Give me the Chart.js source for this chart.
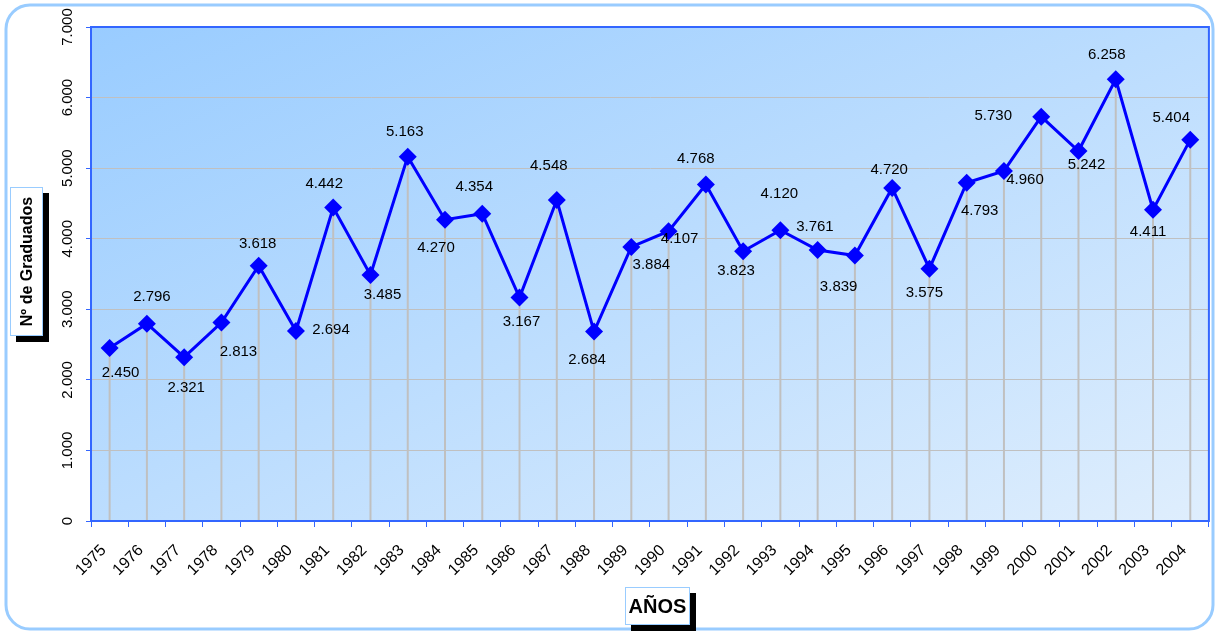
<!DOCTYPE html>
<html>
<head>
<meta charset="utf-8">
<script src="https://cdn.jsdelivr.net/npm/chart.js@4/dist/chart.umd.min.js"></script>
<style>
  html, body { margin: 0; padding: 0; background: #fff; }
  #wrap { width: 1218px; height: 631px; }
</style>
</head>
<body>
<div id="wrap"><canvas id="chart" width="1218" height="631"></canvas></div>
<script>
// datos
const years = ['1975', '1976', '1977', '1978', '1979', '1980', '1981', '1982', '1983', '1984',
  '1985', '1986', '1987', '1988', '1989', '1990', '1991', '1992', '1993', '1994',
  '1995', '1996', '1997', '1998', '1999', '2000', '2001', '2002', '2003', '2004'];
const graduados = [2450, 2796, 2321, 2813, 3618, 2694, 4442, 3485, 5163, 4270,
  4354, 3167, 4548, 2684, 3884, 4107, 4768, 3823, 4120, 3839,
  3761, 4720, 3575, 4793, 4960, 5730, 5242, 6258, 4411, 5404];
const yTicks = [0, 1000, 2000, 3000, 4000, 5000, 6000, 7000];

// desplazamiento de cada etiqueta respecto a su punto (px)
const labelDx = [11, 5, 2, 17, -1, 35, -9, 12, -3, -9, -8, 2, -8, -7, 20, 11, -10, -7, -1, 21,
  -40, -3, -5, 13, 21, -48, 8, -9, -5, -19];
const labelDy = [25, -27, 31, 29, -22, -1, -24, 20, -25, 28, -27, 24, -34, 28, 18, 8, -26, 20, -36, 37,
  -29, -18, 24, 28, 9, -1, 14, -25, 22, -22];

const FONT = 'Arial, "Liberation Sans", sans-serif';

function fmt(v) {
  if (v < 1000) return String(v);
  return Math.floor(v / 1000) + '.' + String(v % 1000).padStart(3, '0');
}

function roundRect(ctx, x, y, w, h, r) {
  ctx.beginPath();
  ctx.moveTo(x + r, y);
  ctx.lineTo(x + w - r, y);
  ctx.arcTo(x + w, y, x + w, y + r, r);
  ctx.lineTo(x + w, y + h - r);
  ctx.arcTo(x + w, y + h, x + w - r, y + h, r);
  ctx.lineTo(x + r, y + h);
  ctx.arcTo(x, y + h, x, y + h - r, r);
  ctx.lineTo(x, y + r);
  ctx.arcTo(x, y, x + r, y, r);
  ctx.closePath();
}

function titleBox(ctx, x, y, w, h, text, size, vertical) {
  ctx.save();
  ctx.fillStyle = '#000';
  ctx.fillRect(x + 6, y + 6, w, h);
  ctx.fillStyle = '#fff';
  ctx.fillRect(x, y, w, h);
  ctx.strokeStyle = '#99ccff';
  ctx.lineWidth = 1;
  ctx.strokeRect(x + 0.5, y + 0.5, w - 1, h - 1);
  ctx.fillStyle = '#000';
  ctx.font = 'bold ' + size + 'px ' + FONT;
  ctx.textAlign = 'center';
  ctx.textBaseline = 'middle';
  ctx.translate(x + w / 2, y + h / 2 + (vertical ? 0 : 1));
  if (vertical) ctx.rotate(-Math.PI / 2);
  ctx.fillText(text, 0, vertical ? 1 : 0);
  ctx.restore();
}

const decorPlugin = {
  id: 'decor',
  beforeDraw(chart) {
    const ctx = chart.ctx;
    const a = chart.chartArea;
    const w = a.right - a.left;
    const h = a.bottom - a.top;
    ctx.save();
    // marco exterior redondeado
    ctx.strokeStyle = '#99ccff';
    ctx.lineWidth = 3;
    roundRect(ctx, 6, 5, 1207, 624, 24);
    ctx.stroke();
    // fondo degradado diagonal (relativo a la forma)
    const k = 1 / (0.25 / (w * w) + 0.25 / (h * h));
    const g = ctx.createLinearGradient(a.left, a.top, a.left + k * 0.5 / w, a.top + k * 0.5 / h);
    g.addColorStop(0, '#99ccff');
    g.addColorStop(1, '#dfeefd');
    ctx.fillStyle = g;
    ctx.fillRect(a.left, a.top, w, h);
    ctx.restore();
  },
  beforeDatasetsDraw(chart) {
    // lineas verticales desde cada punto al eje
    const ctx = chart.ctx;
    const meta = chart.getDatasetMeta(0);
    const bottom = chart.scales.y.getPixelForValue(0);
    ctx.save();
    ctx.strokeStyle = '#c0c0c0';
    ctx.lineWidth = 2;
    meta.data.forEach((pt) => {
      ctx.beginPath();
      ctx.moveTo(pt.x, pt.y);
      ctx.lineTo(pt.x, bottom);
      ctx.stroke();
    });
    ctx.restore();
  },
  afterDraw(chart) {
    const ctx = chart.ctx;
    const a = chart.chartArea;
    ctx.save();
    // borde del area de trazado
    ctx.strokeStyle = '#3366ff';
    ctx.lineWidth = 2;
    ctx.strokeRect(a.left, a.top, a.right - a.left, a.bottom - a.top);

    // etiquetas del eje Y giradas
    const ys = chart.scales.y;
    ctx.fillStyle = '#000';
    ctx.font = '15px ' + FONT;
    ctx.textAlign = 'center';
    ctx.textBaseline = 'middle';
    yTicks.forEach((v) => {
      ctx.save();
      ctx.translate(68, ys.getPixelForValue(v));
      ctx.rotate(-Math.PI / 2);
      ctx.fillText(fmt(v), 0, 0);
      ctx.restore();
    });

    // etiquetas de datos
    const meta = chart.getDatasetMeta(0);
    meta.data.forEach((pt, i) => {
      ctx.fillText(fmt(graduados[i]), pt.x + labelDx[i], pt.y + labelDy[i]);
    });
    ctx.restore();

    // titulos de los ejes
    titleBox(ctx, 10, 187, 33, 149, 'Nº de Graduados', 16, true);
    titleBox(ctx, 625, 587, 65, 38, 'AÑOS', 20, false);
  }
};

const chart = new Chart(document.getElementById('chart').getContext('2d'), {
  type: 'line',
  data: {
    labels: years,
    datasets: [{
      data: graduados,
      borderColor: '#0000ff',
      backgroundColor: '#0000ff',
      borderWidth: 3,
      pointStyle: 'rectRot',
      pointRadius: 9,
      pointHoverRadius: 9,
      pointBorderWidth: 0,
      tension: 0,
      fill: false
    }]
  },
  options: {
    responsive: false,
    animation: false,
    devicePixelRatio: 1,
    layout: { padding: { top: 27, right: 9, left: 0, bottom: 0 } },
    plugins: {
      legend: { display: false },
      title: { display: false },
      tooltip: { enabled: false }
    },
    scales: {
      x: {
        offset: true,
        grid: {
          offset: true,
          drawOnChartArea: false,
          drawTicks: true,
          tickLength: 6,
          color: '#3366ff',
          tickColor: '#3366ff'
        },
        border: { display: true, color: '#3366ff', width: 2 },
        ticks: {
          autoSkip: false,
          minRotation: 45,
          maxRotation: 45,
          padding: 14,
          labelOffset: -6,
          color: '#000',
          font: { family: FONT, size: 16 }
        },
        afterFit(scale) { scale.height = 110; }
      },
      y: {
        min: 0,
        max: 7000,
        ticks: { display: false, stepSize: 1000 },
        grid: {
          color: '#c0c0c0',
          lineWidth: 1,
          drawTicks: true,
          tickLength: 5,
          tickColor: '#3366ff'
        },
        border: { display: true, color: '#3366ff', width: 2 },
        afterFit(scale) { scale.width = 91; }
      }
    }
  },
  plugins: [decorPlugin]
});
</script>
</body>
</html>
